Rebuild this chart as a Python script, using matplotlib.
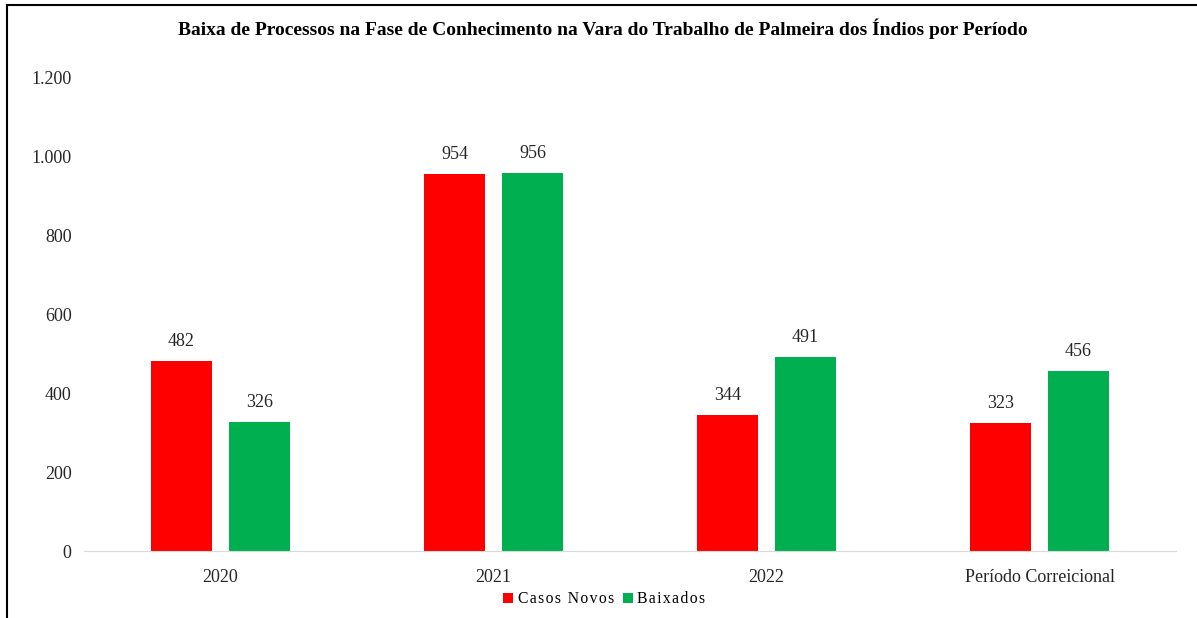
import matplotlib.pyplot as plt
import numpy as np
from matplotlib.lines import Line2D

categories = ["2020", "2021", "2022", "Período Correicional"]
casos_novos = [482, 954, 344, 323]
baixados = [326, 956, 491, 456]
y_ticks = [0, 200, 400, 600, 800, 1000, 1200]
y_tick_labels = ["0", "200", "400", "600", "800", "1.000", "1.200"]

plt.rcParams['font.family'] = ['Liberation Serif', 'DejaVu Serif']

fig = plt.figure(figsize=(11.97, 6.18), dpi=100)
ax = fig.add_axes([0.0702, 0.1084, 0.9123, 0.767])

x = np.arange(len(categories))
w = 0.223
off = 0.143
b1 = ax.bar(x - off, casos_novos, w, color="#ff0000", label="Casos Novos")
b2 = ax.bar(x + off, baixados, w, color="#00b050", label="Baixados")

for bars in (b1, b2):
    for rect in bars:
        h = rect.get_height()
        ax.annotate(f"{h:.0f}", (rect.get_x() + rect.get_width() / 2, h),
                    xytext=(0, 8), textcoords="offset points",
                    ha="center", va="bottom", fontsize=13, color="#262626")

ax.set_xlim(-0.5, len(categories) - 0.5)
ax.set_ylim(0, 1200)
ax.set_xticks(x)
ax.set_xticklabels(categories, fontsize=13, color="#262626")
ax.set_yticks(y_ticks)
ax.set_yticklabels(y_tick_labels, fontsize=13, color="#262626")
ax.tick_params(length=0)
ax.tick_params(axis="y", pad=9)
ax.tick_params(axis="x", pad=13)
for s in ["top", "right", "left"]:
    ax.spines[s].set_visible(False)
ax.spines["bottom"].set_color("#d9d9d9")

fig.text(0.504, 0.954, "Baixa de Processos na Fase de Conhecimento na Vara do Trabalho de Palmeira dos Índios por Período",
         ha="center", va="center", fontsize=14, fontweight="bold")

hs = "\u200a"
leg = fig.legend(handles=[b1, b2], labels=[hs.join("Casos Novos"), hs.join("Baixados")],
                 loc="center", bbox_to_anchor=(0.505, 0.03), ncol=2, frameon=False,
                 fontsize=11.3, handlelength=0.6, handleheight=0.6, handletextpad=0.3,
                 columnspacing=0.6)

# outer frame (only top and left edges fall inside the picture)
fig.add_artist(Line2D([0.006, 1.0], [0.992, 0.992], transform=fig.transFigure, color="black", lw=1.5))
fig.add_artist(Line2D([0.006, 0.006], [0.0, 0.992], transform=fig.transFigure, color="black", lw=1.5))

fig.savefig("out.png", dpi=100)
